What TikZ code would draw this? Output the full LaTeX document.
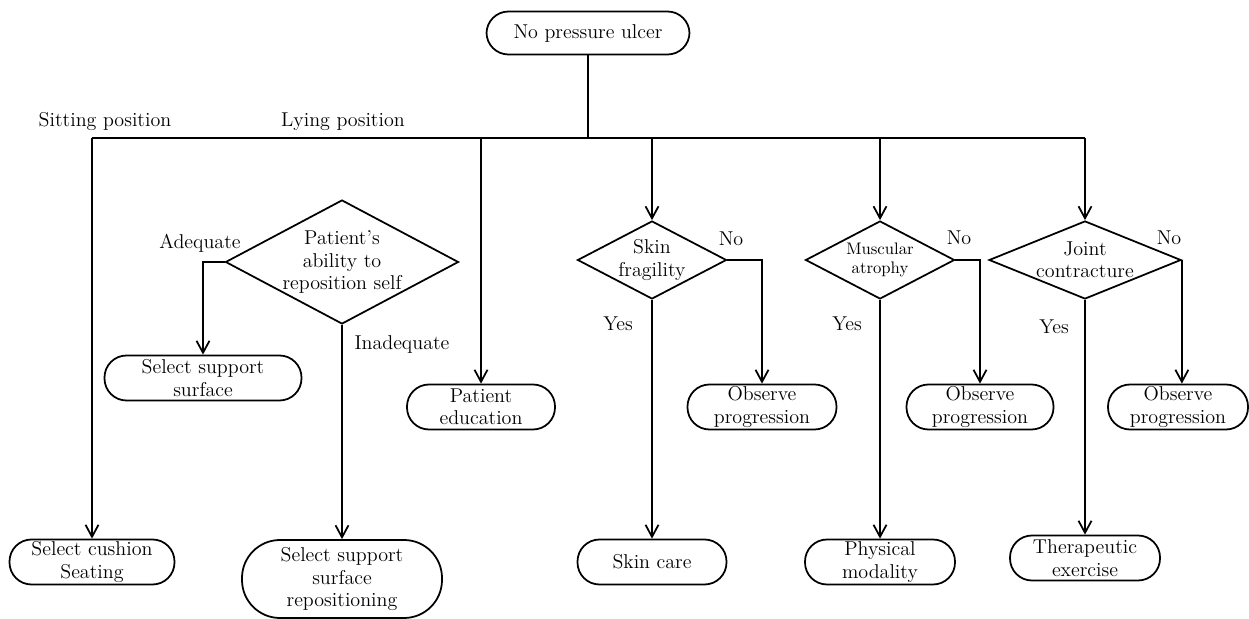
\documentclass[tikz,border=0pt]{standalone}
\usepackage{tikz}
\usetikzlibrary{arrows.meta,shapes.geometric}
\newcommand{\flowFont}{\fontsize{11.4}{12.8}\selectfont}
\newcommand{\flowSmall}{\fontsize{9.5}{10.8}\selectfont}
\tikzset{
  flowBox/.style={draw, line width=1pt, rounded corners=4.4mm, align=center, inner sep=0pt, minimum height=9mm, font=\flowFont},
  flowDiamond/.style={draw, diamond, line width=1pt, align=center, inner sep=-10mm, font=\flowFont},
  flowLine/.style={line width=1pt},
  flowArrow/.style={-{Straight Barb[length=2.4mm,width=2.6mm]}, line width=1pt},
  flowLabel/.style={font=\flowFont, inner sep=0pt}
}

\begin{document}
\begin{tikzpicture}[x=0.2mm,y=-0.2mm]
  \useasboundingbox (0,0) rectangle (1249,619);
  % start and branch line
  \node[flowBox, minimum width=40.6mm, minimum height=8.6mm] (ulcer) at (588,33) {No pressure ulcer};
  \coordinate (bus) at (0,138);
  \node[flowLabel] (sitting) at (105,122) {Sitting position};
  \node[flowLabel] (lying) at (343,122) {Lying position};
  % left part
  \node[flowBox, minimum width=33mm] (cushion) at (92,562) {Select cushion\\Seating};
  \node[flowDiamond, minimum width=46.6mm, minimum height=24.8mm] (ability) at (342,262) {Patient's\\ability to\\reposition self};
  \node[flowBox, minimum width=39.4mm] (surface) at (203,378) {Select support\\surface};
  \node[flowBox, minimum width=40mm, minimum height=15.6mm, rounded corners=7.6mm] (repos) at (342,579) {Select support\\surface\\repositioning};
  \node[flowBox, minimum width=29.6mm] (educ) at (481,407) {Patient\\education};
  \node[flowLabel] (adequate) at (200,243) {Adequate};
  \node[flowLabel] (inadequate) at (402,344) {Inadequate};
  % checks
  \node[flowDiamond, minimum width=29.8mm, minimum height=15.6mm] (skin) at (652,260) {Skin\\fragility};
  \node[flowDiamond, minimum width=29.8mm, minimum height=15.6mm, font=\flowSmall] (musc) at (880,260) {Muscular\\atrophy};
  \node[flowDiamond, minimum width=38.4mm, minimum height=15.6mm] (joint) at (1085,260) {Joint\\contracture};
  \node[flowBox, minimum width=29.8mm] (obsSkin) at (762,407) {Observe\\progression};
  \node[flowBox, minimum width=29.4mm] (obsMusc) at (980,407) {Observe\\progression};
  \node[flowBox, minimum width=28mm] (obsJoint) at (1178,407) {Observe\\progression};
  \node[flowBox, minimum width=29.8mm] (skincare) at (652,562) {Skin care};
  \node[flowBox, minimum width=30mm] (modality) at (880,562) {Physical\\modality};
  \node[flowBox, minimum width=30mm] (exercise) at (1085,558) {Therapeutic\\exercise};
  \node[flowLabel] (noSkin) at (731,239) {No};
  \node[flowLabel] (noMusc) at (959,238) {No};
  \node[flowLabel] (noJoint) at (1169,238) {No};
  \node[flowLabel] (yesSkin) at (618,324) {Yes};
  \node[flowLabel] (yesMusc) at (847,324) {Yes};
  \node[flowLabel] (yesJoint) at (1054,327) {Yes};
  % connectors
  \draw[flowLine] (ulcer.south) -- (ulcer.south |- bus);
  \draw[flowLine] (cushion.north |- bus) -- (joint.north |- bus);
  \draw[flowArrow] (cushion.north |- bus) -- (cushion.north);
  \draw[flowArrow] (educ.north |- bus) -- (educ.north);
  \draw[flowArrow] (skin.north |- bus) -- (skin.north);
  \draw[flowArrow] (musc.north |- bus) -- (musc.north);
  \draw[flowArrow] (joint.north |- bus) -- (joint.north);
  \draw[flowArrow] (ability.west) -| (surface.north);
  \draw[flowArrow] (ability.south) -- (repos.north);
  \draw[flowArrow] (skin.east) -| (obsSkin.north);
  \draw[flowArrow] (skin.south) -- (skincare.north);
  \draw[flowArrow] (musc.east) -| (obsMusc.north);
  \draw[flowArrow] (musc.south) -- (modality.north);
  \draw[flowArrow] (joint.east) -- (joint.east |- obsJoint.north);
  \draw[flowArrow] (joint.south) -- (exercise.north);
\end{tikzpicture}
\end{document}
